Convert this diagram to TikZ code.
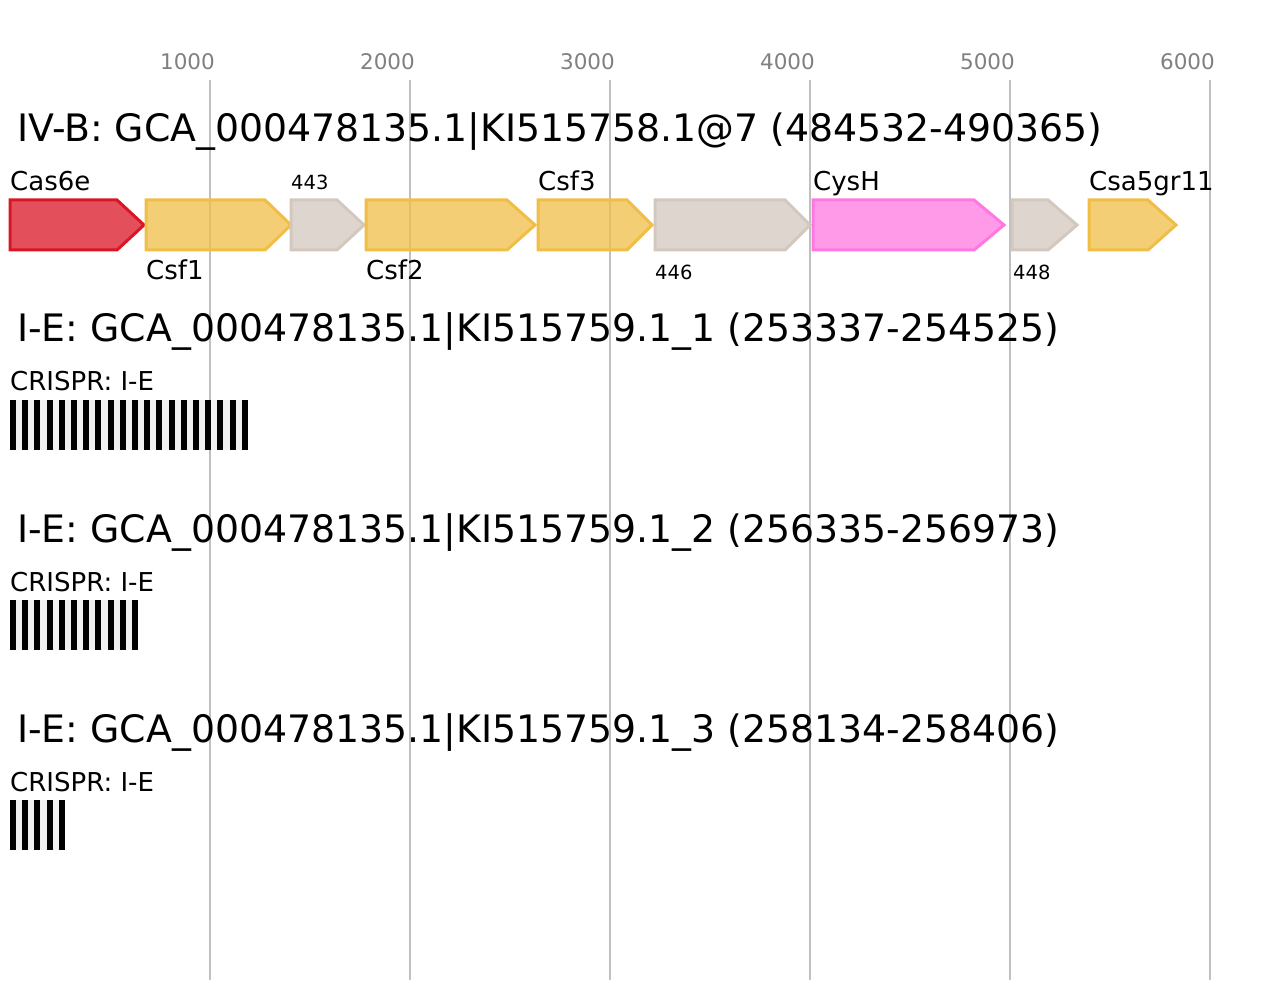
\documentclass[tikz,border=0pt]{standalone}
\usepackage{fontspec}
\setmainfont{DejaVu Sans}
\usepackage{tikz}
\usepackage{xcolor}

\definecolor{gridgray}{RGB}{192,192,192}
\definecolor{tickgray}{RGB}{128,128,128}
\definecolor{casred}{RGB}{218,22,38}
\definecolor{csfyellow}{RGB}{240,190,70}
\definecolor{hypgray}{RGB}{211,200,190}
\definecolor{cyspink}{RGB}{255,120,225}
\definecolor{spacergray}{RGB}{240,240,240}

\begin{document}
\begin{tikzpicture}[x=1pt,y=-1pt,
    gridline/.style={draw=gridgray,line width=2pt},
    ticklabel/.style={anchor=base east,inner sep=0pt,text=tickgray,font=\fontsize{21.5}{24}\selectfont},
    seqtitle/.style={anchor=base west,inner sep=0pt,font=\fontsize{37.8}{42}\selectfont},
    genelabel/.style={anchor=base west,inner sep=0pt,font=\fontsize{26}{30}\selectfont},
    smalllabel/.style={anchor=base west,inner sep=0pt,font=\fontsize{19.5}{22}\selectfont},
    gene/.style={draw=#1,fill=#1,fill opacity=0.75,line width=3pt,line join=miter}]
    \useasboundingbox (0,0) rectangle (1267,1000);

    \foreach \x/\t in {210/1000,410/2000,610/3000,810/4000,1010/5000,1210/6000}{
        \draw[gridline] (\x,80) -- (\x,980);
        \node[ticklabel] (tick\t) at (\x+5,70) {\t};
    }

    \node[seqtitle] (titleA) at (17,142) {IV-B: GCA\_000478135.1|KI515758.1@7 (484532-490365)};
    \node[seqtitle] (titleB) at (17,342) {I-E: GCA\_000478135.1|KI515759.1\_1 (253337-254525)};
    \node[seqtitle] (titleC) at (17,542) {I-E: GCA\_000478135.1|KI515759.1\_2 (256335-256973)};
    \node[seqtitle] (titleD) at (17,742) {I-E: GCA\_000478135.1|KI515759.1\_3 (258134-258406)};

    \draw[gene=casred] (10,200) -- (117,200) -- (144,225) -- (117,250) -- (10,250) -- cycle;
    \draw[gene=csfyellow] (146,200) -- (265,200) -- (291,225) -- (265,250) -- (146,250) -- cycle;
    \draw[gene=hypgray] (291,200) -- (337,200) -- (364,225) -- (337,250) -- (291,250) -- cycle;
    \draw[gene=csfyellow] (366,200) -- (507,200) -- (535,225) -- (507,250) -- (366,250) -- cycle;
    \draw[gene=csfyellow] (538,200) -- (627,200) -- (652,225) -- (627,250) -- (538,250) -- cycle;
    \draw[gene=hypgray] (655,200) -- (785,200) -- (810,225) -- (785,250) -- (655,250) -- cycle;
    \draw[gene=cyspink] (813,200) -- (974,200) -- (1004,225) -- (974,250) -- (813,250) -- cycle;
    \draw[gene=hypgray] (1012,200) -- (1048,200) -- (1077,225) -- (1048,250) -- (1012,250) -- cycle;
    \draw[gene=csfyellow] (1089,200) -- (1148,200) -- (1176,225) -- (1148,250) -- (1089,250) -- cycle;

    \node[genelabel] (cas6e) at (10,191) {Cas6e};
    \node[genelabel] (csf1) at (146,280) {Csf1};
    \node[smalllabel] (g443) at (291,190) {443};
    \node[genelabel] (csf2) at (366,280) {Csf2};
    \node[genelabel] (csf3) at (538,191) {Csf3};
    \node[smalllabel] (g446) at (655,280) {446};
    \node[genelabel] (cysh) at (813,191) {CysH};
    \node[smalllabel] (g448) at (1013,280) {448};
    \node[genelabel] (csa5) at (1089,191) {Csa5gr11};

    \node[genelabel] (crisprB) at (10,391) {CRISPR: I-E};
    \fill[spacergray] (10,400) rectangle (248,450);
    \foreach \i in {0,...,19} \fill (10+12.2*\i,400) rectangle ++(6,50);

    \node[genelabel] (crisprC) at (10,591) {CRISPR: I-E};
    \fill[spacergray] (10,600) rectangle (138,650);
    \foreach \i in {0,...,10} \fill (10+12.2*\i,600) rectangle ++(6,50);

    \node[genelabel] (crisprD) at (10,791) {CRISPR: I-E};
    \fill[spacergray] (10,800) rectangle (65,850);
    \foreach \i in {0,...,4} \fill (10+12.2*\i,800) rectangle ++(6,50);

\end{tikzpicture}
\end{document}
